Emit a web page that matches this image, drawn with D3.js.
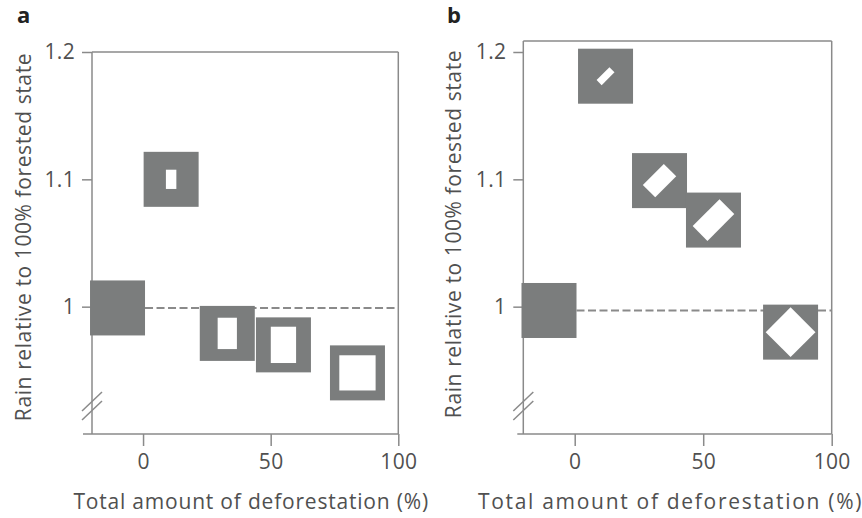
<!DOCTYPE html>
<html>
<head>
<meta charset="utf-8">
<script src="https://cdn.jsdelivr.net/npm/d3@7"></script>
<style>
  html, body { margin: 0; padding: 0; background: #fff; }
  svg { display: block; }
  text { font-family: "Open Sans", "DejaVu Sans", sans-serif; }
</style>
</head>
<body>
<svg id="chart" width="862" height="518"></svg>
<script>
// ---- data ----
const xTicks = [0, 50, 100];
const yTicks = [1, 1.1, 1.2];
const yTickLabels = ["1", "1.1", "1.2"];

// Panel a: deforestation (%), rain ratio, hole width / height (fraction of marker)
const aDeforest = [-10, 11, 33, 55, 84];
const aRain     = [0.999, 1.1, 0.979, 0.970, 0.948];
const aHoleW    = [0, 0.19, 0.35, 0.46, 0.66];
const aHoleH    = [0, 0.35, 0.57, 0.66, 0.64];
const aBaseline = 0.999;

// Panel b: deforestation (%), rain ratio, diamond hole long / short side (fraction of marker)
const bDeforest  = [-10, 12, 33, 54, 84];
const bRain      = [0.997, 1.181, 1.099, 1.068, 0.980];
const bHoleLong  = [0, 0.33, 0.54, 0.69, 0.64];
const bHoleShort = [0, 0.13, 0.32, 0.38, 0.64];
const bBaseline  = 0.997;

const xLabel = "Total amount of deforestation (%)";
const yLabel = "Rain relative to 100% forested state";

// ---- styles ----
const markerFill = "#7b7d7d";
const axisColor = "#8a8a8a";
const textColor = "#505050";
const markerSize = 55;

const svg = d3.select("#chart");

function panel(opts) {
  const g = svg.append("g");
  const x = d3.scaleLinear().domain([-20, 100]).range([opts.left, opts.right]);
  const y = d3.scaleLinear().domain([0.9, 1.2]).range([434, 52]);
  const bottom = y(0.9);

  // frame (top + right)
  g.append("line").attr("x1", opts.left).attr("x2", opts.right)
    .attr("y1", opts.top).attr("y2", opts.top)
    .attr("stroke", axisColor).attr("stroke-width", 1.5);
  g.append("line").attr("x1", opts.right).attr("x2", opts.right)
    .attr("y1", opts.top).attr("y2", bottom)
    .attr("stroke", axisColor).attr("stroke-width", 1.5);

  // y axis
  const yAxis = d3.axisLeft(y).tickValues(yTicks)
    .tickFormat((d, i) => yTickLabels[i]).tickSize(10).tickPadding(7);
  const ya = g.append("g").attr("transform", `translate(${opts.left},0)`).call(yAxis);
  ya.select(".domain").remove();
  ya.append("line").attr("x1", 0).attr("x2", 0).attr("y1", opts.top).attr("y2", bottom)
    .attr("stroke", axisColor).attr("stroke-width", 1.5);

  // x axis
  const xAxis = d3.axisBottom(x).tickValues(xTicks).tickSize(12).tickPadding(8);
  const xa = g.append("g").attr("transform", `translate(0,${bottom})`).call(xAxis);
  xa.select(".domain").remove();
  xa.append("line").attr("x1", opts.left - opts.xExt).attr("x2", opts.right)
    .attr("y1", 0).attr("y2", 0)
    .attr("stroke", axisColor).attr("stroke-width", 1.5);

  [ya, xa].forEach(a => {
    a.selectAll(".tick line").attr("stroke", axisColor).attr("stroke-width", 1.5);
    a.selectAll(".tick text").attr("fill", textColor)
      .style("font-size", "21px").style("font-weight", 400)
      .style("letter-spacing", "0.3px")
      .style("font-family", '"Open Sans", sans-serif');
  });

  // axis break marks
  const by = y(0.922);
  [-4.5, 4.5].forEach(off => {
    g.append("line")
      .attr("x1", opts.left - 10).attr("y1", by + off + 9.5)
      .attr("x2", opts.left + 10).attr("y2", by + off - 9.5)
      .attr("stroke", axisColor).attr("stroke-width", 1.5);
  });

  // dashed baseline
  g.append("line")
    .attr("x1", x(opts.deforest[0]) + markerSize / 2).attr("x2", opts.right)
    .attr("y1", y(opts.baseline)).attr("y2", y(opts.baseline))
    .attr("stroke", "#8a8a8a").attr("stroke-width", 2)
    .attr("stroke-dasharray", "8,3.5");

  // markers
  const data = opts.deforest.map((d, i) => ({ x: d, y: opts.rain[i], hw: opts.h1[i], hh: opts.h2[i] }));
  const m = g.selectAll("g.marker").data(data).join("g").attr("class", "marker")
    .attr("transform", d => `translate(${x(d.x)},${y(d.y)})`);
  m.append("rect")
    .attr("x", -markerSize / 2).attr("y", -markerSize / 2)
    .attr("width", markerSize).attr("height", markerSize)
    .attr("fill", markerFill);
  m.filter(d => d.hw > 0).append("rect")
    .attr("x", d => -d.hw * markerSize / 2).attr("y", d => -d.hh * markerSize / 2)
    .attr("width", d => d.hw * markerSize).attr("height", d => d.hh * markerSize)
    .attr("transform", opts.rotate ? "rotate(-45)" : null)
    .attr("fill", "#fff");

  // labels
  g.append("text").attr("x", opts.labelX).attr("y", 23)
    .attr("fill", "#222").style("font-size", "22px").style("font-weight", 700)
    .text(opts.letter);
  g.append("text").attr("x", (opts.left + opts.right) / 2 + opts.xLabelShift).attr("y", 509)
    .attr("text-anchor", "middle").attr("fill", textColor)
    .style("font-size", "21px").style("font-weight", 400)
    .style("letter-spacing", opts.xLabelSpacing)
    .text(xLabel);
  g.append("text")
    .attr("transform", `translate(${opts.yLabelX},${opts.yLabelY}) rotate(-90)`)
    .attr("text-anchor", "middle").attr("fill", textColor)
    .style("font-size", "21px").style("font-weight", 400)
    .style("letter-spacing", "0.6px")
    .text(yLabel);
}

panel({
  letter: "a", labelX: 17, left: 92, right: 398.3, top: 52, xExt: 9,
  deforest: aDeforest, rain: aRain, h1: aHoleW, h2: aHoleH, baseline: aBaseline, rotate: false,
  xLabelShift: 6, xLabelSpacing: "0.8px", yLabelX: 31, yLabelY: 237
});
panel({
  letter: "b", labelX: 447, left: 523.3, right: 831.7, top: 41, xExt: 6,
  deforest: bDeforest, rain: bRain, h1: bHoleLong, h2: bHoleShort, baseline: bBaseline, rotate: true,
  xLabelShift: -7, xLabelSpacing: "1.7px", yLabelX: 461, yLabelY: 234
});
</script>
</body>
</html>
